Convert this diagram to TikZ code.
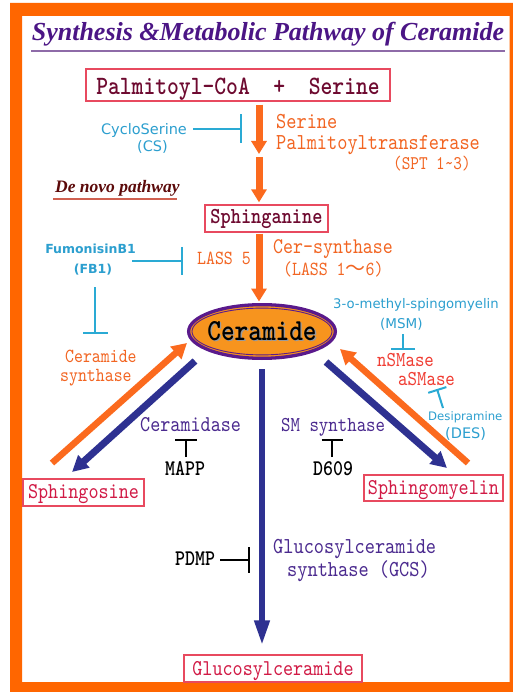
\documentclass[tikz,border=0pt]{standalone}
\usepackage{fontspec}
\usetikzlibrary{arrows.meta,shapes.geometric}
\newfontfamily\titlef{Liberation Serif}
\newfontfamily\dejav{DejaVu Sans}
\newfontfamily\cjkf{Noto Sans CJK SC}
\newfontfamily\mymono{lmmono10-regular.otf}[BoldFont=lmmonolt10-bold.otf, FakeStretch=0.85]
\newcommand\monof[1]{\fontsize{\fpeval{#1/0.85}}{\fpeval{#1/0.85}}\selectfont\mymono}
\newcommand\monob[1]{\fontsize{\fpeval{#1/0.85}}{\fpeval{#1/0.85}}\selectfont\mymono\bfseries}
\newcommand\dvf[1]{\fontsize{#1}{#1}\selectfont\dejav}
\definecolor{frameor}{HTML}{FF6600}
\definecolor{arror}{HTML}{FB6A1E}
\definecolor{txtor}{HTML}{F26522}
\definecolor{arrblue}{HTML}{2E3191}
\definecolor{titlepurple}{HTML}{4B1585}
\definecolor{ulpurple}{HTML}{8E6BA8}
\definecolor{labblue}{HTML}{2C9FCF}
\definecolor{inhblue}{HTML}{2AAAD4}
\definecolor{boxred}{HTML}{E84A5F}
\definecolor{maroon}{HTML}{6E0A30}
\definecolor{crimson}{HTML}{D11A45}
\definecolor{smred}{HTML}{F03C32}
\definecolor{cerfill}{HTML}{F7941E}
\definecolor{cerpurple}{HTML}{5A1A8C}
\definecolor{txtpurple}{HTML}{4B2A8F}
\definecolor{dnred}{HTML}{5C0A0A}
\definecolor{dnline}{HTML}{D06050}
\definecolor{shadowgray}{HTML}{9A9A9A}
\tikzset{
  lab/.style={inner sep=0pt, anchor=base west},
  labc/.style={inner sep=0pt, anchor=base},
  box/.style={draw=boxred, line width=1.3pt, inner sep=0pt, anchor=base, align=center},
  oarr/.style={arror, line width=7pt, -{Triangle[width=15pt,length=13pt]}},
  odiag/.style={arror, line width=6.5pt, -{Triangle[width=16pt,length=15pt]}},
  barr/.style={arrblue, line width=7pt, -{Triangle[width=16pt,length=16pt]}},
  bcarr/.style={arrblue, line width=6.5pt, -{Triangle[width=14pt,length=26pt]}},
  inh/.style={line width=2pt, -{Bar[width=#1]}},
  inh/.default=26pt
}
\begin{document}
\begin{tikzpicture}[x=1pt,y=-1pt]
\useasboundingbox (0,0) rectangle (512,692);
\fill[white] (0,0) rectangle (512,692);
% frame
\fill[frameor, even odd rule] (10,3) rectangle (530,710) (22,16) rectangle (509.5,682);
% title
\node[labc, text=titlepurple, font=\fontsize{26}{26}\selectfont\titlef\bfseries\itshape] (title) at (268,41) {Synthesis \&Metabolic Pathway of Ceramide};
\draw[ulpurple, line width=2.2pt] ([xshift=-237pt,yshift=-10pt]title.base) -- ([xshift=237pt,yshift=-10pt]title.base);

% boxes
\node[box, minimum width=304pt, text height=25.5pt, text depth=6.5pt, text=maroon, font=\monob{22.5}] (pc) at (238,94.5) {Palmitoyl-CoA\ \ +\ \ Serine};
\node[box, minimum width=123pt, text height=19pt, text depth=8pt, text=maroon, font=\monob{19.4}] (sg) at (266.5,224) {Sphinganine};
\node[box, minimum width=121pt, text height=19pt, text depth=8pt, text=crimson, font=\monof{19.2}] (sgo) at (83.5,498) {Sphingosine};
\node[box, minimum width=139pt, text height=19pt, text depth=7pt, text=crimson, font=\monof{19.2}] (smy) at (433.5,494) {Sphingomyelin};
\node[box, minimum width=178pt, text height=20pt, text depth=7pt, text=crimson, font=\monof{19.2}] (gc) at (273,675) {Glucosylceramide};

% ceramide
\node[ellipse, draw=cerpurple, line width=3.3pt, fill=cerfill, minimum width=146.7pt, minimum height=53.7pt, inner sep=0pt, text height=17pt, text depth=0pt, font=\monob{26}] (cer) at (262,331.5)
  {\makebox[60pt]{\rlap{\hspace{1.3pt}\raisebox{-1.3pt}{\textcolor{shadowgray}{Ceramide}}}Ceramide}};
\draw[cerpurple, line width=0.9pt] (cer.center) ellipse [x radius=70pt, y radius=23.4pt];

% labels orange
\node[lab, text=txtor, font=\monof{19.4}] (spt1) at (276,129) {Serine};
\node[lab, text=txtor, font=\monof{19.4}] (spt2) at (276,150) {Palmitoyltransferase};
\node[lab, text=txtor, font=\monof{16.4}] (spt3) at (393,170) {(SPT 1\textasciitilde 3)};
\node[lab, text=txtor, font=\monof{19}] (cs1) at (273,254) {Cer-synthase};
\node[lab, text=txtor, font=\monof{17}] (cs2) at (283,275) {(LASS 1{\cjkf ～}6)};
\node[lab, text=txtor, font=\monof{17}] (lass5) at (197,265) {LASS 5};
\node[lab, text=txtor, font=\monof{17}] (crs1) at (65,362) {Ceramide};
\node[lab, text=txtor, font=\monof{17}] (crs2) at (60,381) {synthase};

% labels blue
\node[labc, text=labblue, font=\dvf{14.5}] (cyc) at (144,135) {CycloSerine};
\node[labc, text=labblue, font=\dvf{14.5}] (cyc2) at (152.5,151.5) {(CS)};
\node[labc, text=labblue, font=\dvf{12.5}\bfseries] (fb1) at (90.5,254) {FumonisinB1};
\node[labc, text=labblue, font=\dvf{12.5}\bfseries] (fb2) at (93,273) {(FB1)};
\node[lab, text=labblue, font=\dvf{13.2}] (msm1) at (333,308) {3-o-methyl-spingomyelin};
\node[lab, text=labblue, font=\dvf{13.5}] (msm2) at (380,328) {(MSM)};
\node[lab, text=labblue, font=\dvf{11.7}] (des1) at (428,420) {Desipramine};
\node[lab, text=labblue, font=\dvf{14.5}] (des2) at (445,438) {(DES)};

% red enzymes
\node[lab, text=smred, font=\monof{18}] (nsm) at (377,366) {nSMase};
\node[lab, text=smred, font=\monof{18}] (asm) at (398,385) {aSMase};

% purple enzymes
\node[lab, text=txtpurple, font=\monof{19.2}] (cdase) at (140,431) {Ceramidase};
\node[lab, text=txtpurple, font=\monof{18}] (sms) at (281,431) {SM synthase};
\node[lab, text=txtpurple, font=\monof{19.4}] (gcs1) at (273,553) {Glucosylceramide};
\node[lab, text=txtpurple, font=\monof{19.4}] (gcs2) at (287,576) {synthase (GCS)};

% black inhibitors
\node[lab, font=\monob{19}] (mapp) at (165,475) {MAPP};
\node[lab, font=\monob{19}] (d609) at (313,475) {D609};
\node[lab, font=\monob{19}] (pdmp) at (175,565) {PDMP};

% de novo
\node[lab, text=dnred, font=\fontsize{17.5}{17.5}\selectfont\titlef\bfseries\itshape] (dn) at (55,193) {De novo pathway};
\draw[dnline, line width=1.2pt] ([shift={(-2pt,-6pt)}]dn.base west) -- ([shift={(-3pt,-6pt)}]dn.base east);

% main orange arrows
\coordinate (sptgap) at (259,155.5);
\draw[oarr] ([yshift=-3pt]pc.south -| sptgap) -- ([yshift=1.5pt]sptgap);
\draw[oarr] ([yshift=-1.5pt]sptgap) -- ([yshift=2pt]sg.north -| sptgap);
\draw[oarr] ([yshift=-1pt]sg.south -| sptgap) -- ([yshift=1.5pt]cer.north -| sptgap);

% central blue arrow
\draw[bcarr] ([yshift=-9pt]cer.south) -- ([yshift=8pt]gc.north -| cer.south);

% diagonal arrows
\coordinate (lo1) at (52,463);
\coordinate (lo2) at (187,343);
\coordinate (lb1) at (195,361);
\coordinate (lb2) at (72,472);
\coordinate (rb1) at (326,362);
\coordinate (rb2) at (447,468);
\coordinate (ro1) at (468,463);
\coordinate (ro2) at (340,349);
\draw[odiag] (lo1) -- (lo2);
\draw[barr] (lb1) -- (lb2);
\draw[barr] (rb1) -- (rb2);
\draw[odiag] (ro1) -- (ro2);

% inhibitors blue
\coordinate (csbar) at (242,129);
\draw[inhblue, inh=29pt] ([xshift=-49pt]csbar) -- (csbar);
\coordinate (fbbar) at (183,261);
\draw[inhblue, inh=28pt] ([xshift=-51pt]fbbar) -- (fbbar);
\coordinate (fbvbar) at (95,334);
\draw[inhblue, inh=25pt] ([yshift=47pt]fbvbar) -- (fbvbar);
\coordinate (msmbar) at (403,350);
\draw[inhblue, inh=24pt] ([yshift=16pt]msmbar) -- (msmbar);
\coordinate (desbar) at (437,389);
\coordinate (desstart) at (443,408);
\draw[inhblue, inh=19pt] (desstart) -- (desbar);

% inhibitors black
\coordinate (mappbar) at (186,439);
\draw[black, inh=22pt] ([yshift=-18pt]mappbar) -- (mappbar);
\coordinate (d609bar) at (332,439);
\draw[black, inh=21pt] ([yshift=-18pt]d609bar) -- (d609bar);
\coordinate (pdmpbar) at (250,560);
\draw[black, inh=26pt] ([xshift=-30pt]pdmpbar) -- (pdmpbar);
\end{tikzpicture}
\end{document}
